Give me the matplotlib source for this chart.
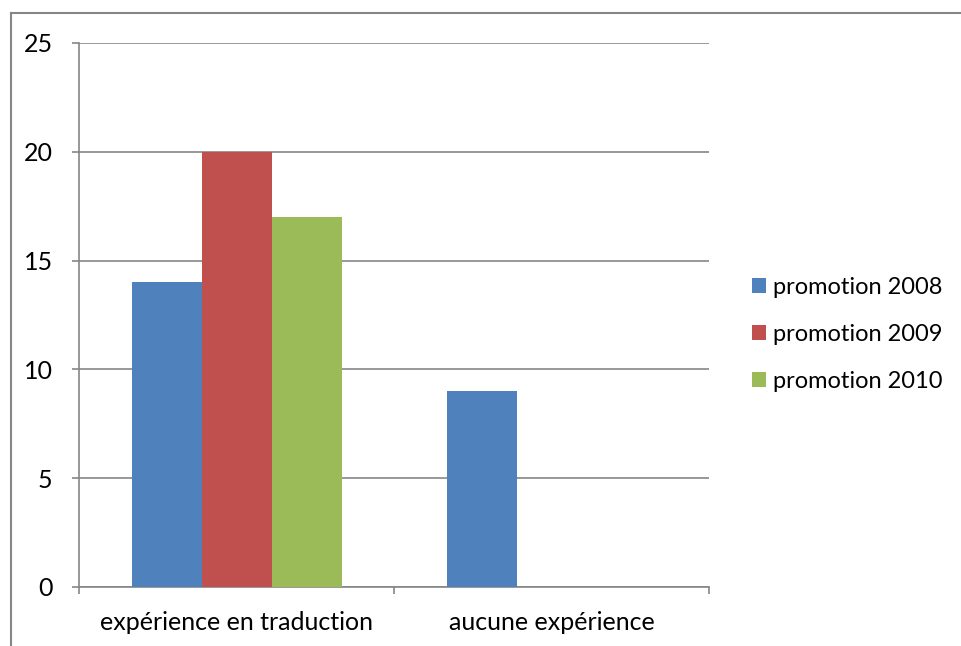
import matplotlib
matplotlib.use("Agg")
from matplotlib import pyplot as plt
from matplotlib.lines import Line2D
import numpy as np

categories = ["expérience en traduction", "aucune expérience"]
series = ["promotion 2008", "promotion 2009", "promotion 2010"]
values_2008 = [14, 9]
values_2009 = [20, 0]
values_2010 = [17, 0]
colors = ["#4F81BD", "#C0504D", "#9BBB59"]
yticks = [0, 5, 10, 15, 20, 25]

plt.rcParams["font.family"] = ["Lato", "DejaVu Sans"]

W, H = 961, 646
fig = plt.figure(figsize=(W / 100, H / 100), dpi=100)
ax = fig.add_axes([79 / W, 1 - 587 / H, (709 - 79) / W, (587 - 43) / H])

x = np.arange(len(categories))
bw = 1 / 4.5
for i, (name, vals) in enumerate(zip(series, [values_2008, values_2009, values_2010])):
    ax.bar(x + (i - 1) * bw, vals, width=bw, color=colors[i], label=name, zorder=3)

ax.set_xlim(-0.5, 1.5)
ax.set_ylim(0, 25)
ax.set_yticks(yticks)
ax.yaxis.grid(True, color="#868686", linewidth=1.2, zorder=0)
ax.set_xticks(x)
ax.set_xticklabels(categories, fontsize=18)
ax.tick_params(axis="x", length=0, pad=17)
ax.tick_params(axis="y", length=5, width=1.2, color="#868686", labelsize=18, pad=14)
# category boundary tick marks
ax.set_xticks([-0.5, 0.5, 1.5], minor=True)
ax.tick_params(axis="x", which="minor", length=5, width=1.2, color="#868686", direction="out")
for s in ["top", "right"]:
    ax.spines[s].set_visible(False)
for s in ["left", "bottom"]:
    ax.spines[s].set_color("#868686")
    ax.spines[s].set_linewidth(1.2)

leg = fig.legend(loc="upper left", bbox_to_anchor=(752 / W, 1 - 277 / H), frameon=False,
                 fontsize=17, handlelength=0.6, handleheight=0.6, handletextpad=0.3,
                 labelspacing=1.1, borderpad=0, borderaxespad=0)

# outer chart border (partially cropped)
fig.add_artist(Line2D([11 / W, 1], [1 - 13 / H, 1 - 13 / H], transform=fig.transFigure,
                      color="#868686", linewidth=1.5))
fig.add_artist(Line2D([11 / W, 11 / W], [0, 1 - 13 / H], transform=fig.transFigure,
                      color="#868686", linewidth=1.5))

fig.savefig("out.png", dpi=100)
